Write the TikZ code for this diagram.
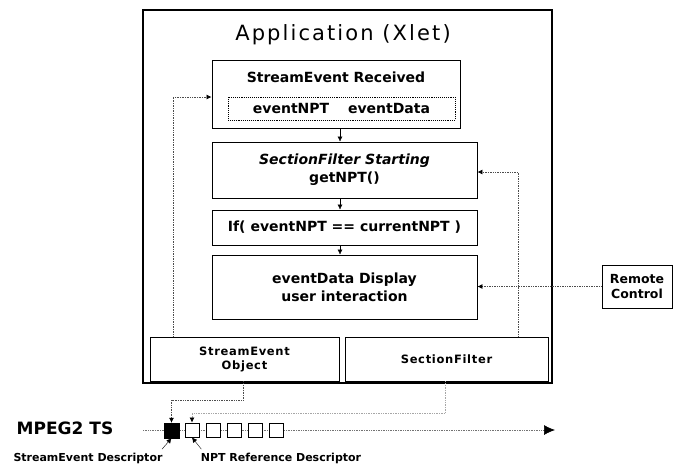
\documentclass[tikz,border=0pt]{standalone}
\usepackage{fontspec}
\setmainfont{DejaVu Sans}
\usetikzlibrary{arrows.meta,positioning}
\tikzset{
  blk/.style={draw, line width=0.9pt, inner sep=0pt, align=center},
  dots/.style={densely dotted, line width=0.7pt, black!70},
  tip/.style={-{Latex[length=5pt,width=5pt,black]}},
  boxtext/.style={font=\fontsize{14}{18}\selectfont\bfseries, align=center},
  smalltext/.style={font=\fontsize{11.5}{14}\selectfont\bfseries\addfontfeature{LetterSpace=6}, align=center},
  desctext/.style={font=\fontsize{11}{13}\selectfont\bfseries}
}

\begin{document}
\begin{tikzpicture}[x=1pt,y=-1pt]
\useasboundingbox (0,0) rectangle (676,466);
% application frame
\node[draw, line width=1.6pt, minimum width=409pt, minimum height=373pt, inner sep=0pt] (app) at (347.5,196.5) {};
\node[font=\fontsize{21}{24}\selectfont\addfontfeature{LetterSpace=10}] (title) at (343,35) {Application (Xlet)};
% inner steps
\node[blk, minimum width=248pt, minimum height=68pt] (recv) at (336,94) {};
\node[boxtext] (recvtxt) at (336,77) {StreamEvent Received};
\node[blk, densely dotted, line width=0.7pt, minimum width=227pt, minimum height=23pt, boxtext] (npt) at (341.5,108.5) {eventNPT\quad\ eventData};
\node[blk, boxtext, minimum width=265pt, minimum height=56pt] (start) at (344.5,170) {\textit{SectionFilter Starting}\\getNPT()};
\node[blk, boxtext, minimum width=265pt, minimum height=35pt] (cmp) at (344.5,227.5) {If( eventNPT == currentNPT )};
\node[blk, boxtext, minimum width=265pt, minimum height=64pt] (disp) at (344.5,287) {eventData Display\\user interaction};
\node[blk, smalltext, minimum width=189pt, minimum height=44pt] (seobj) at (244.5,359) {StreamEvent\\Object};
\node[blk, smalltext, minimum width=203pt, minimum height=44pt] (sfilt) at (446.5,359) {SectionFilter};
\node[blk, font=\fontsize{12.5}{15}\selectfont\bfseries, minimum width=70pt, minimum height=43pt] (remote) at (637,286.5) {Remote\\Control};
% flow
\draw[tip] ([xshift=4pt]recv.south) -- ([xshift=4pt]recv.south |- start.north);
\draw[tip] ([xshift=-4.5pt]start.south) -- ([xshift=-4.5pt]cmp.north);
\draw[tip] ([xshift=-4.5pt]cmp.south) -- ([xshift=-4.5pt]disp.north);
\coordinate (lup) at (173,97);
\coordinate (rup) at (518,172);
\draw[dots, tip] (lup |- seobj.north) -- (lup) -- (lup -| recv.west);
\draw[dots, tip] (rup |- sfilt.north) -- (rup) -- (rup -| start.east);
\draw[dots, tip] (remote.west) -- (remote.west -| disp.east);
% transport stream
\node[font=\fontsize{17}{20}\selectfont\bfseries] (ts) at (65,428) {MPEG2 TS};
\coordinate (tsin) at (143,430);
\coordinate (tsout) at (555,430);
\draw[dots, black!55, -{Latex[length=11pt,width=10pt,black]}] (tsin) -- (tsout);
\node[draw, fill=black, minimum size=15pt, inner sep=0pt] (sq0) at (171.5,430.5) {};
\foreach \i in {1,...,5}
  \node[draw, fill=white, line width=0.9pt, minimum size=14pt, inner sep=0pt] (sq\i) at (192+21*\i-21,430) {};
\draw[dots, tip] ([xshift=-1.5pt]seobj.south) -- ++(0,19) -| (sq0.north);
\draw[dots, black!35, tip] ([xshift=-1.5pt]sfilt.south) -- ++(0,32) -| (sq1.north);
\node[desctext] (sedesc) at (88,458) {StreamEvent Descriptor};
\node[desctext] (nptdesc) at (281,458) {NPT Reference Descriptor};
\draw[tip] ([xshift=-4pt]sedesc.north east) -- (sq0.south);
\draw[tip] ([xshift=4pt]nptdesc.north west) -- (sq1.south);
\end{tikzpicture}
\end{document}
